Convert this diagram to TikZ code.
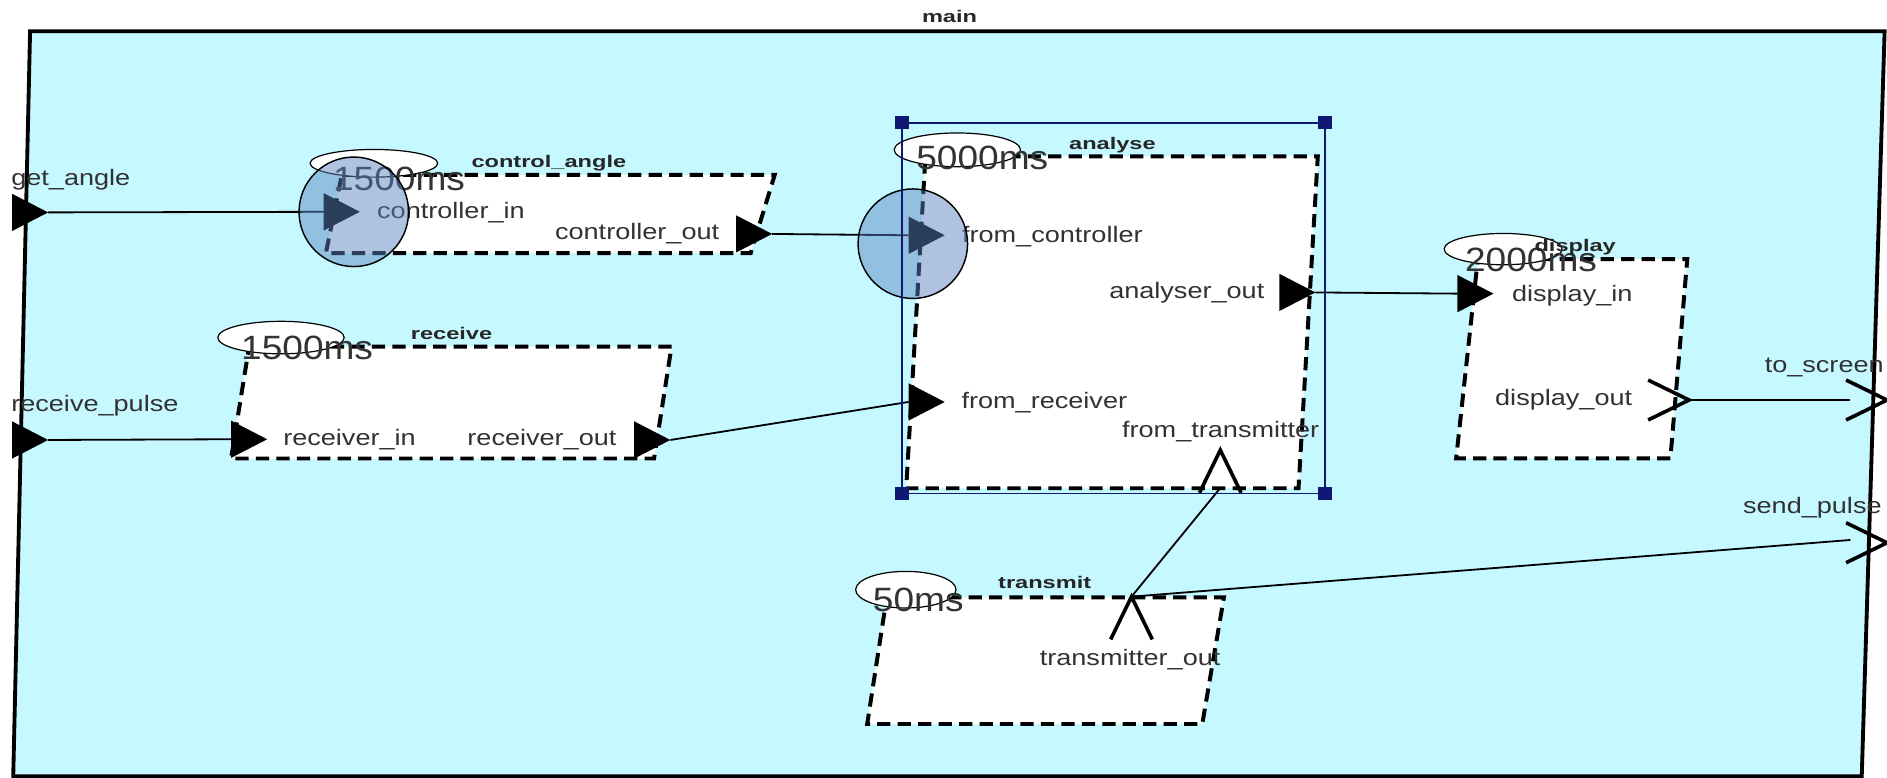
\documentclass[tikz,border=0pt]{standalone}
\usepackage{fontspec}
\newfontfamily\ptfont[FakeStretch=1.21]{Liberation Sans}
\newfontfamily\blfont[FakeStretch=1.4]{Liberation Sans}
\newfontfamily\msfont[FakeStretch=1.1]{Liberation Sans}
\definecolor{bgcyan}{RGB}{197,248,255}
\definecolor{hlblue}{RGB}{89,131,193}
\definecolor{selnavy}{RGB}{15,25,115}
\definecolor{txtgray}{RGB}{50,50,50}
\tikzset{
  mainframe/.style={draw=black,line width=1.6pt,fill=bgcyan},
  actor/.style={draw=black,fill=white,line width=1.65pt,dash pattern=on 5.5pt off 3pt},
  period/.style={draw=black,fill=white,line width=0.5pt},
  wire/.style={draw=black,line width=0.75pt},
  ptxt/.style={font=\ptfont\fontsize{9.3pt}{10pt}\selectfont,text=txtgray,inner sep=0pt},
  btxt/.style={font=\blfont\bfseries\fontsize{7pt}{8pt}\selectfont,text=black!85,inner sep=0pt},
  mtxt/.style={font=\msfont\fontsize{14pt}{16pt}\selectfont,text=black!80,inner sep=0pt},
  hl/.style={draw=black,line width=0.6pt,fill=hlblue,fill opacity=0.48},
  sel/.style={draw=selnavy,line width=0.75pt},
  handlebox/.style={fill=selnavy},
  inport/.pic={\fill[black] (0,-15.5) -- (30,0) -- (0,15.5) -- cycle;},
  chevR/.pic={\draw[black,line width=1.5pt] (-34,-16.6) -- (0,0) -- (-34,16.6);},
  chevU/.pic={\draw[black,line width=1.5pt] (-17.3,35.5) -- (0,0) -- (17.3,35.5);}
}
\begin{document}
\begin{tikzpicture}[x=0.5pt,y=-0.5pt]
\useasboundingbox (0,0) rectangle (1568,646);
% outer frame
\path[mainframe] (25,26) -- (1566,26) -- (1547,645) -- (11,645) -- cycle;
\node[btxt,anchor=mid] (tMain) at (789,14) {main};

% actors
\path[actor] (284,145.4) -- (643.7,145.4) -- (623.8,210.3) -- (270.8,210.3) -- cycle;
\path[actor] (207,288) -- (558,288) -- (543.5,381) -- (192,381) -- cycle;
\path[actor] (769,130) -- (1095,130) -- (1079,405.7) -- (753,405.7) -- cycle;
\path[actor] (1228,215.4) -- (1402,215.4) -- (1388,380.8) -- (1210,380.8) -- cycle;
\path[actor] (736.8,496.4) -- (1017,496.4) -- (999,601.6) -- (720.6,601.6) -- cycle;

% period ellipses
\path[period] (310.7,135.7) ellipse [x radius=26.5pt, y radius=5.75pt];
\path[period] (233.5,280.5) ellipse [x radius=26.25pt, y radius=6.75pt];
\path[period] (795.5,124.5) ellipse [x radius=26.25pt, y radius=7pt];
\path[period] (1249,207) ellipse [x radius=24.5pt, y radius=6.5pt];
\path[period] (752.7,490) ellipse [x radius=20.85pt, y radius=7.6pt];

\node[mtxt,anchor=base west] (mCA) at (276.4,158) {1500ms};
\node[mtxt,anchor=base west] (mRC) at (200,299) {1500ms};
\node[mtxt,anchor=base west] (mAN) at (761,141) {5000ms};
\node[mtxt,anchor=base west] (mDI) at (1217,225.8) {2000ms};
\node[mtxt,anchor=base west] (mTX) at (725,508) {50ms};

% actor names
\node[btxt,anchor=mid west] (tCA) at (391.4,135) {control\_angle};
\node[btxt,anchor=mid west] (tRC) at (341,278) {receive};
\node[btxt,anchor=mid west] (tAN) at (888,120) {analyse};
\node[btxt,anchor=mid west] (tDI) at (1274.7,205) {display};
\node[btxt,anchor=mid west] (tTX) at (829,485) {transmit};

% port labels
\node[ptxt,anchor=mid west] (lGetA) at (9,150) {get\_angle};
\node[ptxt,anchor=mid west] (lRecvP) at (9,338) {receive\_pulse};
\node[ptxt,anchor=mid west] (lCtrlIn) at (313,177) {controller\_in};
\node[ptxt,anchor=mid east] (lCtrlOut) at (598,195) {controller\_out};
\node[ptxt,anchor=mid west] (lRecvIn) at (235,366) {receiver\_in};
\node[ptxt,anchor=mid west] (lRecvOut) at (388,366) {receiver\_out};
\node[ptxt,anchor=mid west] (lFromCtrl) at (799,197) {from\_controller};
\node[ptxt,anchor=mid east] (lAnOut) at (1051,243.5) {analyser\_out};
\node[ptxt,anchor=mid west] (lFromRecv) at (798.6,335) {from\_receiver};
\node[ptxt,anchor=mid west] (lFromTx) at (932,359) {from\_transmitter};
\node[ptxt,anchor=mid west] (lDispIn) at (1256,246.5) {display\_in};
\node[ptxt,anchor=mid west] (lDispOut) at (1242,332.5) {display\_out};
\node[ptxt,anchor=mid west] (lToScreen) at (1466,305) {to\_screen};
\node[ptxt,anchor=mid west] (lSendP) at (1448,422) {send\_pulse};
\node[ptxt,anchor=mid west] (lTxOut) at (863.6,548.5) {transmitter\_out};

% port coordinates
\coordinate (getA) at (10,176.5);   \coordinate (getAo) at (40,176.5);
\coordinate (recvP) at (10,365.6);  \coordinate (recvPo) at (40,365.6);
\coordinate (ctrlIn) at (269,176);
\coordinate (fromCtrl) at (755,195.5);
\coordinate (recvIn) at (192,365);
\coordinate (fromRecv) at (755,334);
\coordinate (dispIn) at (1211,244);
\coordinate (ctrlOut) at (611.6,194.4); \coordinate (ctrlOuto) at (641.6,194.4);
\coordinate (recvOut) at (527,365.6);   \coordinate (recvOuto) at (557,365.6);
\coordinate (anOut) at (1063,243);      \coordinate (anOuto) at (1093,243);
\coordinate (fromTx) at (1014,374);     \coordinate (fromTxB) at (1014,405.5);
\coordinate (txOut) at (940.2,495.8);
\coordinate (dispOut) at (1403.5,332.4);
\coordinate (toScreen) at (1568,332.4); \coordinate (toScreenW) at (1537,332.4);
\coordinate (sendP) at (1568,451);      \coordinate (sendPW) at (1537.5,448.7);

% connectors
\draw[wire] (getAo) -- (ctrlIn);
\draw[wire] (ctrlOuto) -- (fromCtrl);
\draw[wire] (recvPo) -- (recvIn);
\draw[wire] (recvOuto) -- (fromRecv);
\draw[wire] (anOuto) -- (dispIn);
\draw[wire] (dispOut) -- (toScreenW);
\draw[wire] (txOut) -- (fromTxB);
\draw[wire] (txOut) -- (sendPW);

% ports
\pic at (getA) {inport};
\pic at (recvP) {inport};
\pic at (ctrlIn) {inport};
\pic at (fromCtrl) {inport};
\pic at (recvIn) {inport};
\pic at (fromRecv) {inport};
\pic at (dispIn) {inport};
\pic at (ctrlOut) {inport};
\pic at (recvOut) {inport};
\pic at (anOut) {inport};
\pic at (fromTx) {chevU};
\pic at (txOut) {chevU};
\pic at (dispOut) {chevR};
\pic at (toScreen) {chevR};
\pic at (sendP) {chevR};

% highlight circles
\path[hl] (294,176) circle [radius=22.75pt];
\path[hl] (758.5,202.5) circle [radius=22.75pt];

% selection of analyse
\draw[sel] (749.6,102) rectangle (1101,410);
\foreach \cx/\cy in {749.6/102, 1101/102, 749.6/410, 1101/410}
  \fill[handlebox] (\cx-5.5,\cy-5.5) rectangle (\cx+5.5,\cy+5.5);
\end{tikzpicture}
\end{document}
